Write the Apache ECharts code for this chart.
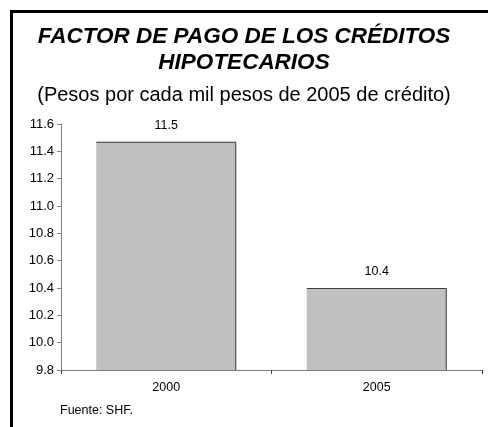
<!DOCTYPE html>
<html><head><meta charset="utf-8">
<script src="https://cdn.jsdelivr.net/npm/echarts@6/dist/echarts.min.js"></script>
<style>html,body{margin:0;padding:0;background:#fff}#c{width:488px;height:427px}</style>
</head><body><div id="c"></div>
<script>
var categories = ['2000', '2005'];
var values = [11.47, 10.4];
var yTicks = ['9.8','10.0','10.2','10.4','10.6','10.8','11.0','11.2','11.4','11.6'];
var titleText = 'FACTOR DE PAGO DE LOS CRÉDITOS\nHIPOTECARIOS';
var subtitleText = '(Pesos por cada mil pesos de 2005 de crédito)';
var sourceText = 'Fuente: SHF.';

var chart = echarts.init(document.getElementById('c'), null, {renderer: 'canvas'});
var FONT = 'Liberation Sans, Arial, sans-serif';
chart.setOption({
  animation: false,
  backgroundColor: '#fff',
  graphic: [
    {type: 'rect', shape: {x: 11.5, y: 11.5, width: 700, height: 700}, style: {fill: 'none', stroke: '#000', lineWidth: 3}, z: 100},
    {type: 'text', left: 'center', top: 24, style: {text: titleText, font: 'italic bold 22.5px ' + FONT, fill: '#000', textAlign: 'center', lineHeight: 26}},
    {type: 'text', left: 'center', top: 85, style: {text: subtitleText, font: '20px ' + FONT, fill: '#000'}},
    {type: 'text', left: 60, top: 404, style: {text: sourceText, font: '12.5px ' + FONT, fill: '#000'}}
  ],
  grid: {left: 61, right: 6, top: 124, bottom: 57},
  xAxis: {
    type: 'category', data: categories,
    axisLine: {lineStyle: {color: '#808080', width: 1}},
    axisTick: {show: true, length: 4, lineStyle: {color: '#404040'}},
    axisLabel: {color: '#000', fontSize: 12.5, fontFamily: FONT, margin: 11}
  },
  yAxis: {
    type: 'value', min: 9.8, max: 11.6, interval: 0.2,
    axisLine: {show: true, lineStyle: {color: '#808080', width: 1}},
    axisTick: {show: true, length: 4, lineStyle: {color: '#808080'}},
    splitLine: {show: false},
    axisLabel: {color: '#000', fontSize: 13, fontFamily: FONT, margin: 7,
      formatter: function (v) { return v.toFixed(1); }}
  },
  series: [{
    type: 'custom',
    data: values.map(function (v, i) { return [i, v]; }),
    renderItem: function (params, api) {
      var top = api.coord([api.value(0), api.value(1)]);
      var base = api.coord([api.value(0), 9.8]);
      var w = api.size([1, 0])[0] * 0.665;
      var l = top[0] - w / 2, r = top[0] + w / 2;
      return {
        type: 'group',
        children: [
          {type: 'rect', shape: {x: l, y: top[1], width: w, height: base[1] - top[1]}, style: {fill: '#c0c0c0'}},
          {type: 'polyline', shape: {points: [[l, top[1] + 0.5], [r - 0.5, top[1] + 0.5], [r - 0.5, base[1]]]}, style: {stroke: '#404040', lineWidth: 1, fill: null}},
          {type: 'text', style: {text: api.value(1).toFixed(1), x: top[0], y: top[1] - 10, textAlign: 'center', textVerticalAlign: 'bottom', font: '12.5px ' + FONT, fill: '#000'}}
        ]
      };
    }
  }]
});
</script></body></html>
